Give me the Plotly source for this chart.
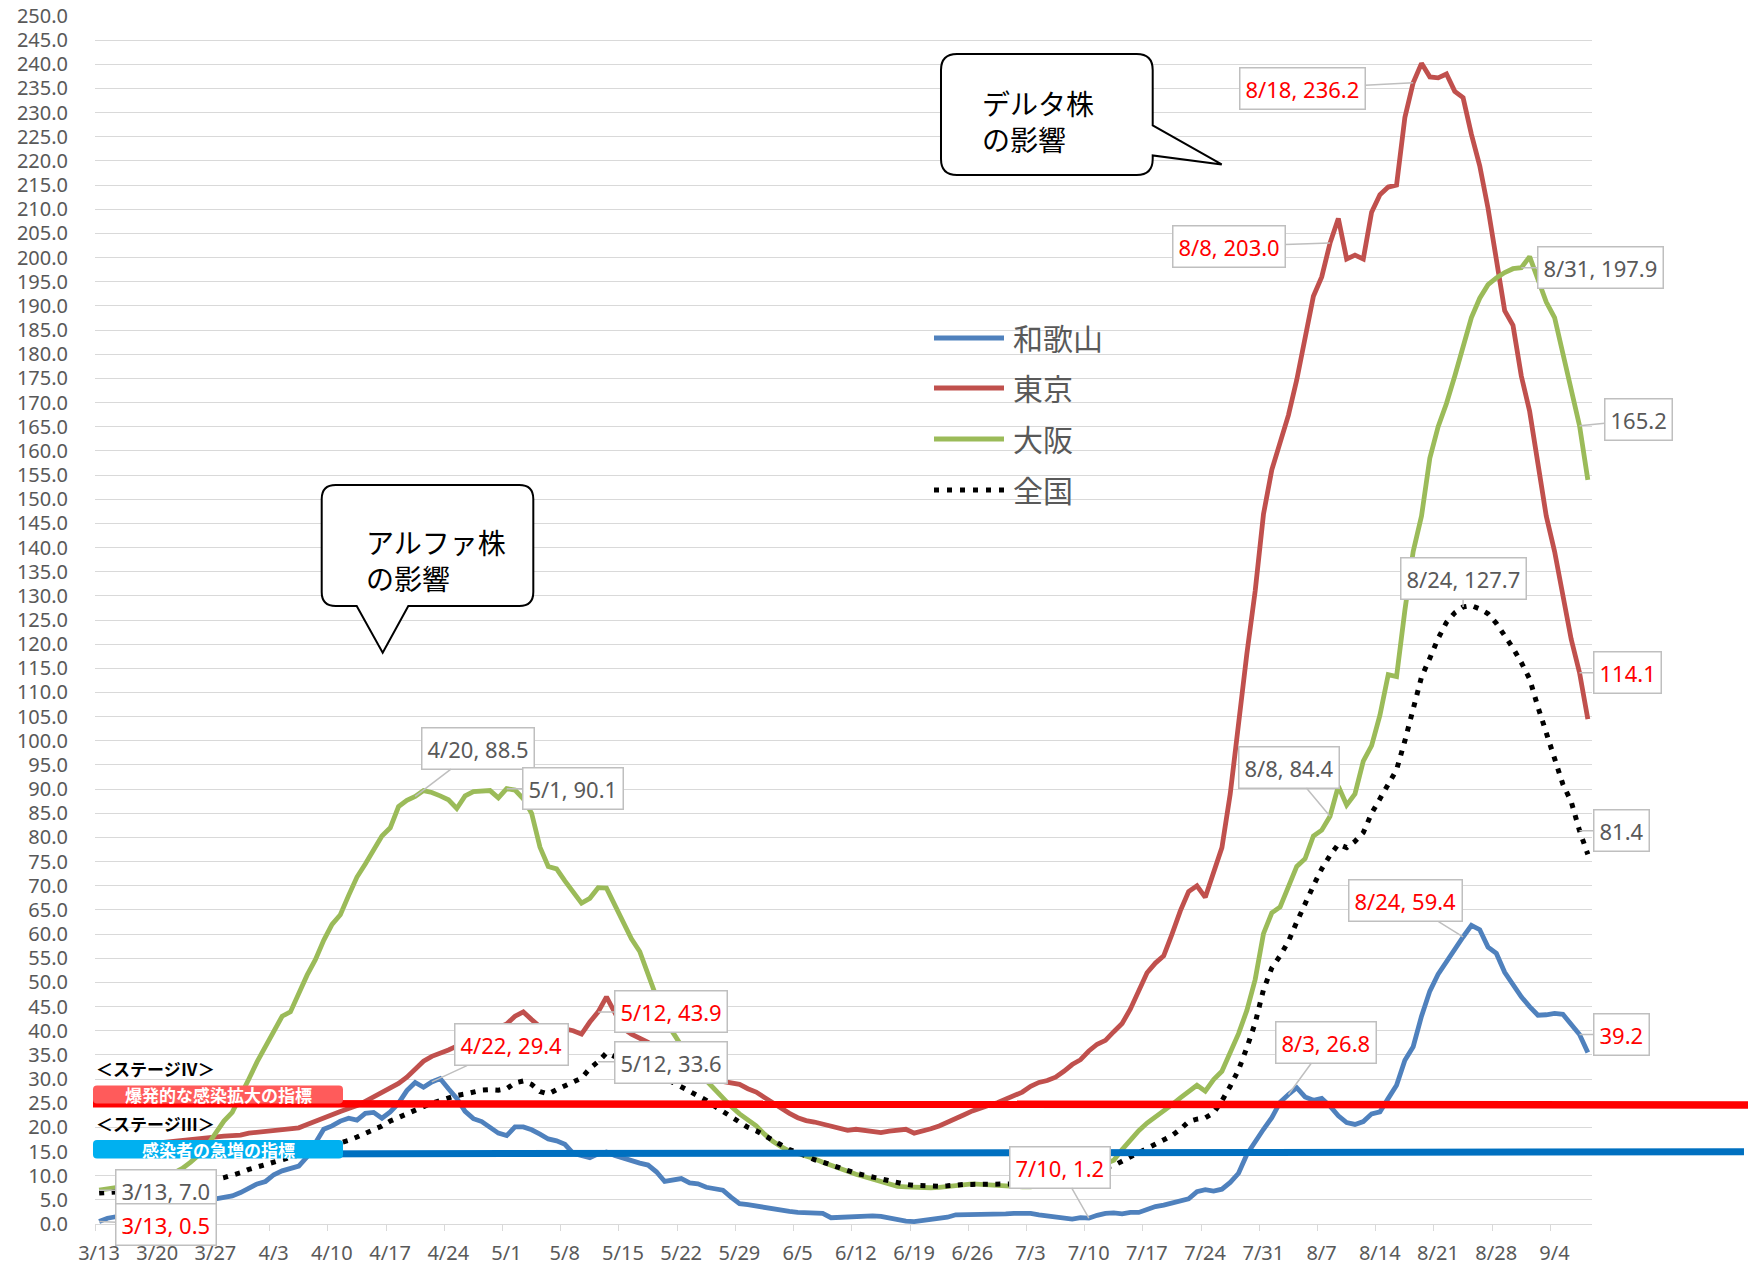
import pandas as pd
import plotly.graph_objects as go

# ---------------- data ----------------
dates = pd.date_range("2021-03-13", periods=180, freq="D")
series_names = ["和歌山", "東京", "大阪", "全国"]

wakayama = [
    0.5, 1.2, 1.5, 1.8, 2.0, 2.3, 2.6, 2.9, 3.2, 3.5,
    3.8, 4.1, 4.4, 4.7, 5.0, 5.3, 5.8, 6.5, 7.3, 8.3,
    8.8, 10.2, 11.0, 11.5, 12.0, 13.9, 17.0, 19.6, 20.3, 21.3,
    21.9, 21.5, 22.9, 23.1, 21.9, 23.2, 25.0, 27.6, 29.3, 28.3,
    29.4, 30.1, 28.0, 26.0, 23.3, 21.8, 21.2, 20.1, 18.8, 18.3,
    20.1, 20.1, 19.5, 18.6, 17.6, 17.2, 16.5, 14.6, 14.2, 13.7,
    14.5, 14.9, 14.2, 13.6, 13.0, 12.6, 12.2, 10.8, 8.8, 9.2,
    9.4, 8.5, 8.3, 7.6, 7.2, 7.0, 5.5, 4.2, 4.0, 3.7,
    3.3, 3.0, 2.8, 2.6, 2.4, 2.3, 2.3, 2.2, 1.3, 1.4,
    1.6, 1.7, 1.7, 1.7, 1.6, 1.3, 0.8, 0.6, 0.5, 0.7,
    0.8, 1.0, 1.4, 1.9, 1.9, 1.9, 1.9, 2.0, 2.0, 2.1,
    2.2, 2.3, 2.2, 1.9, 1.7, 1.5, 1.4, 1.0, 1.3, 1.2,
    1.8, 2.2, 2.3, 2.1, 2.4, 2.4, 3.0, 3.6, 3.9, 4.4,
    4.7, 5.2, 6.7, 7.1, 6.8, 7.2, 8.6, 10.5, 14.4, 17.2,
    19.6, 22.0, 25.2, 26.8, 28.2, 26.3, 25.6, 26.0, 24.4, 22.4,
    21.0, 20.6, 21.2, 22.8, 23.2, 26.0, 28.7, 33.9, 36.7, 43.0,
    48.2, 51.7, 54.4, 56.9, 59.4, 61.8, 60.9, 57.3, 56.0, 52.1,
    49.4, 47.0, 45.0, 43.2, 43.3, 43.6, 43.4, 41.4, 39.2, 35.5,
]

tokyo = [
    15.5, 15.6, 15.8, 16.0, 16.2, 16.4, 16.6, 16.8, 17.0, 17.2,
    17.4, 17.6, 17.8, 18.0, 18.1, 18.2, 18.3, 18.4, 18.8, 19.0,
    19.3, 19.5, 19.6, 19.7, 19.9, 20.6, 21.3, 22.0, 22.8, 23.3,
    23.9, 24.5, 25.4, 26.3, 27.2, 28.0, 29.1, 30.4, 32.0, 33.7,
    34.7, 35.3, 36.0, 36.8, 37.6, 38.4, 39.2, 40.0, 40.7, 41.4,
    43.0, 43.9, 42.3, 40.8, 40.5, 40.4, 40.4, 40.0, 39.3, 41.8,
    43.9, 47.0, 44.0, 40.5, 39.3, 38.4, 37.6, 36.4, 35.0, 33.6,
    32.2, 31.0, 30.4, 30.1, 29.9, 29.6, 29.2, 28.9, 28.0, 27.3,
    26.2, 25.0, 23.9, 22.9, 22.0, 21.4, 21.1, 20.7, 20.2, 19.7,
    19.4, 19.6, 19.3, 19.1, 18.9, 19.2, 19.4, 19.6, 18.8, 19.2,
    19.7, 20.3, 21.0, 21.8, 22.6, 23.4, 24.1, 24.6, 25.1, 25.9,
    26.6, 27.3, 28.5, 29.3, 29.7, 30.4, 31.6, 33.0, 34.0, 35.8,
    37.2, 38.0, 39.8, 41.5, 44.5, 48.3, 52.0, 54.0, 55.5, 60.0,
    64.8, 68.8, 70.0, 67.6, 72.8, 77.9, 89.0, 104.0, 118.0, 131.0,
    146.9, 156.1, 161.8, 167.4, 174.7, 183.5, 192.0, 196.0, 203.0, 208.1,
    199.7, 200.5, 199.7, 209.4, 213.0, 214.6, 215.0, 229.0, 236.2, 240.2,
    237.4, 237.2, 238.0, 234.4, 233.1, 225.5, 219.0, 210.2, 198.9, 189.0,
    186.0, 175.5, 168.2, 156.9, 146.5, 139.2, 130.3, 121.0, 114.1, 104.5,
]

osaka = [
    7.0, 7.2, 7.5, 7.8, 8.1, 8.5, 8.9, 9.4, 9.9, 10.6,
    11.5, 12.8, 14.3, 16.3, 19.0, 21.3, 23.1, 26.3, 30.0, 33.6,
    36.8, 40.0, 43.0, 43.9, 47.8, 51.5, 54.7, 58.7, 62.0, 64.0,
    68.0, 71.8, 74.5, 77.6, 80.3, 82.0, 86.4, 87.7, 88.5, 89.7,
    89.3, 88.6, 87.8, 86.0, 88.6, 89.5, 89.7, 89.7, 88.2, 90.1,
    89.8, 88.0, 85.0, 78.0, 74.0, 73.5, 71.0, 68.5, 66.4, 67.4,
    69.6, 69.5, 66.0, 62.0, 59.0, 56.4, 51.5, 46.5, 42.3, 39.6,
    37.0, 34.0, 31.5, 29.7, 27.9, 26.0, 24.3, 22.8, 21.6, 20.3,
    18.6, 17.1, 16.0, 15.1, 14.6, 14.1, 13.5, 12.8, 12.1, 11.5,
    10.9, 10.3, 9.8, 9.3, 8.8, 8.3, 7.8, 7.7, 7.6, 7.6,
    7.5, 7.6, 7.8, 8.1, 8.2, 8.3, 8.2, 8.1, 7.9, 7.7,
    7.6, 7.7, 7.7, 7.9, 8.2, 8.6, 9.1, 9.7, 10.4, 11.1,
    11.9, 12.6, 13.2, 15.4, 17.4, 19.3, 20.9, 22.1, 23.3, 24.7,
    26.1, 27.4, 28.7, 27.5, 29.9, 31.6, 35.5, 39.4, 44.2, 50.6,
    60.1, 64.4, 65.6, 69.6, 74.0, 75.6, 80.3, 81.5, 84.4, 90.6,
    86.7, 89.0, 95.8, 99.0, 105.3, 113.7, 113.3, 127.0, 139.2, 146.5,
    158.5, 165.0, 169.8, 175.5, 182.0, 187.6, 191.6, 194.4, 195.8, 196.9,
    197.7, 197.9, 200.2, 195.6, 190.8, 187.6, 180.3, 172.3, 165.2, 154.0,
]

zenkoku = [
    6.4, 6.4, 6.6, 6.8, 7.0, 7.2, 7.4, 7.6, 7.8, 8.0,
    8.3, 8.5, 8.7, 9.0, 9.2, 9.6, 10.0, 10.6, 11.3, 11.8,
    12.3, 12.8, 13.3, 13.6, 14.2, 14.7, 15.3, 15.8, 16.3, 16.8,
    17.3, 18.0, 18.7, 19.4, 20.3, 21.3, 22.1, 22.7, 23.5, 24.3,
    25.0, 25.6, 26.1, 26.6, 26.9, 27.3, 27.7, 27.8, 27.7, 28.0,
    29.2, 29.6, 28.9, 27.4, 26.9, 27.8, 28.6, 29.3, 30.2, 32.2,
    33.6, 35.4, 34.6, 33.8, 33.2, 32.5, 31.8, 31.0, 30.2, 29.3,
    28.4, 27.5, 26.5, 25.6, 24.4, 23.3, 22.1, 20.9, 20.0, 19.3,
    18.3, 17.2, 16.2, 15.4, 14.8, 14.0, 13.3, 12.8, 12.2, 11.6,
    11.0, 10.5, 10.1, 9.7, 9.3, 8.9, 8.5, 8.2, 8.0, 7.9,
    7.7, 7.8, 7.9, 8.1, 8.2, 8.2, 8.2, 8.2, 8.2, 8.1,
    8.2, 8.3, 8.5, 8.7, 9.0, 9.3, 9.7, 10.1, 10.5, 10.9,
    11.3, 11.7, 12.1, 13.0, 13.9, 14.9, 15.8, 16.7, 17.6, 18.3,
    19.6, 21.2, 21.7, 22.0, 23.0, 25.5, 28.5, 31.9, 36.5, 41.6,
    48.5, 53.0, 55.5, 58.5, 62.5, 66.5, 70.0, 73.5, 76.3, 78.6,
    77.9, 79.2, 81.0, 85.0, 88.0, 90.6, 94.0, 100.0, 106.8, 113.2,
    117.1, 121.2, 124.5, 126.5, 127.7, 128.0, 127.3, 126.3, 124.3, 121.9,
    119.2, 116.2, 112.8, 107.0, 101.8, 96.3, 91.0, 87.4, 81.4, 76.5,
]

tick_dates = dates[::7]
tick_labels = [f"{d.month}/{d.day}" for d in tick_dates]
Y_MAX = 250
Y_STEP = 5
stage4_level = 25
stage3_level = 15

# callouts: (series, index, show date?, text colour, box offset x, box offset y)
callouts = [
    ("大阪", 0, True, "#595959", 67, 0),
    ("和歌山", 0, True, "#FF0000", 67, 3),
    ("大阪", 38, True, "#595959", 63, -48),
    ("大阪", 49, True, "#595959", 66, 0),
    ("和歌山", 40, True, "#FF0000", 80, -37),
    ("東京", 60, True, "#FF0000", 73, 0),
    ("全国", 60, True, "#595959", 73, 1),
    ("和歌山", 119, True, "#FF0000", -29, -51),
    ("和歌山", 143, True, "#FF0000", 38, -52),
    ("大阪", 148, True, "#595959", -41, -49),
    ("和歌山", 164, True, "#FF0000", -58, -36),
    ("全国", 164, True, "#595959", 0, -28),
    ("東京", 148, True, "#FF0000", -101, 3),
    ("東京", 158, True, "#FF0000", -111, 6),
    ("大阪", 171, True, "#595959", 79, 0),
    ("大阪", 178, False, "#595959", 59, -6),
    ("東京", 178, False, "#FF0000", 48, 0),
    ("全国", 178, False, "#595959", 42, 0),
    ("和歌山", 178, False, "#FF0000", 42, 0),
]

# ---------------- layout constants ----------------
W, H = 1750, 1268
L, R, T, B = 95, 1592, 16, 1224
PW, PH = R - L, B - T

colors = {"和歌山": "#4F81BD", "東京": "#C0504D", "大阪": "#9BBB59", "全国": "#000000"}
values = {"和歌山": wakayama, "東京": tokyo, "大阪": osaka, "全国": zenkoku}

LATIN = "Noto Sans, Noto Sans CJK JP, sans-serif"
CJK = "Noto Sans CJK JP, Noto Sans, sans-serif"


def px(x):
    return (x - L) / PW


def py(y):
    return (B - y) / PH


def pt(x, y):
    return f"{px(x):.5f},{py(y):.5f}"


def rounded_path(x0, y0, x1, y1, r, tail=None):
    s = f"M{pt(x0 + r, y0)} L{pt(x1 - r, y0)} Q{pt(x1, y0)} {pt(x1, y0 + r)} "
    if tail and tail[0] == "right":
        for (tx, ty) in tail[1]:
            s += f"L{pt(tx, ty)} "
    s += f"L{pt(x1, y1 - r)} Q{pt(x1, y1)} {pt(x1 - r, y1)} "
    if tail and tail[0] == "bottom":
        for (tx, ty) in tail[1]:
            s += f"L{pt(tx, ty)} "
    s += f"L{pt(x0 + r, y1)} Q{pt(x0, y1)} {pt(x0, y1 - r)} "
    s += f"L{pt(x0, y0 + r)} Q{pt(x0, y0)} {pt(x0 + r, y0)} Z"
    return s


fig = go.Figure()

for name in series_names:
    if name == "全国":
        line = dict(color=colors[name], width=5, dash="5px,7.5px")
    else:
        line = dict(color=colors[name], width=4.8)
    fig.add_trace(go.Scatter(x=dates, y=values[name], mode="lines", name=name,
                             line=line, showlegend=False, hoverinfo="x+y+name"))

shapes = []
# threshold lines (extend past the plot area, like the drawn lines in the original)
shapes.append(dict(type="line", xref="paper", yref="paper",
                   x0=px(93), x1=px(1748), y0=(stage4_level - 0.1) / Y_MAX, y1=(stage4_level - 0.35) / Y_MAX,
                   line=dict(color="#FF0000", width=7.5), layer="above"))
shapes.append(dict(type="line", xref="paper", yref="paper",
                   x0=px(97), x1=px(1744), y0=(stage3_level - 0.55) / Y_MAX, y1=(stage3_level - 0.05) / Y_MAX,
                   line=dict(color="#0070C0", width=7), layer="above"))
# stage label boxes
shapes.append(dict(type="path", xref="paper", yref="paper",
                   path=rounded_path(93, 1085.5, 343, 1103.5, 4),
                   fillcolor="#FF5B5B", line=dict(width=0), layer="above"))
shapes.append(dict(type="path", xref="paper", yref="paper",
                   path=rounded_path(93, 1140, 343, 1158.5, 4),
                   fillcolor="#00B0F0", line=dict(width=0), layer="above"))
# speech bubbles
shapes.append(dict(type="path", xref="paper", yref="paper",
                   path=rounded_path(321.7, 485, 533.3, 606, 14,
                                     tail=("bottom", [(408.3, 606), (382.7, 652.7), (356.7, 606)])),
                   fillcolor="white", line=dict(color="black", width=2), layer="above"))
shapes.append(dict(type="path", xref="paper", yref="paper",
                   path=rounded_path(941, 54, 1152.7, 175, 16,
                                     tail=("right", [(1152.7, 125.4), (1221.7, 164.4), (1152.7, 155.4)])),
                   fillcolor="white", line=dict(color="black", width=2), layer="above"))

# manual legend
legend_y = [338, 388, 439, 490]
for name, ly in zip(series_names, legend_y):
    dash = "5px,8px" if name == "全国" else "solid"
    shapes.append(dict(type="line", xref="paper", yref="paper",
                       x0=px(934), x1=px(1004), y0=py(ly), y1=py(ly),
                       line=dict(color=colors[name], width=5, dash=dash), layer="above"))

annotations = []
for name, ly in zip(series_names, legend_y):
    annotations.append(dict(xref="paper", yref="paper", x=px(1011), y=py(ly - 1),
                            xanchor="left", yanchor="middle", showarrow=False,
                            text=name, font=dict(family=CJK, size=30, color="#595959")))

# bubble texts
for txt, x, y in [("アルファ株<br>の影響", 364, 559.5),
                  ("デルタ株<br>の影響", 980, 121)]:
    annotations.append(dict(xref="paper", yref="paper", x=px(x), y=py(y),
                            xanchor="left", yanchor="middle", showarrow=False, align="left",
                            text=txt, font=dict(family=CJK, size=28, color="black")))

# stage texts
for txt, x, y, col, anchor in [("＜ステージⅣ＞", 94, 1068, "black", "left"),
                               ("＜ステージⅢ＞", 94, 1123, "black", "left"),
                               ("爆発的な感染拡大の指標", 218, 1094.5, "white", "center"),
                               ("感染者の急増の指標", 218, 1149.3, "white", "center")]:
    annotations.append(dict(xref="paper", yref="paper", x=px(x), y=py(y),
                            xanchor=anchor, yanchor="middle", showarrow=False,
                            text=f"<b>{txt}</b>", font=dict(family=CJK, size=17, color=col)))

# data callouts
for name, idx, with_date, col, axo, ayo in callouts:
    d = dates[idx]
    v = values[name][idx]
    label = f"{d.month}/{d.day}, {v:.1f}" if with_date else f"{v:.1f}"
    annotations.append(dict(x=d, y=v, xref="x", yref="y", text=label,
                            showarrow=True, arrowhead=0, arrowwidth=1.5, arrowcolor="#BFBFBF",
                            ax=axo, ay=ayo, standoff=0,
                            bgcolor="white", bordercolor="#BFBFBF", borderwidth=1.5, borderpad=5,
                            font=dict(family=LATIN, size=22, color=col)))

fig.update_layout(
    width=W, height=H,
    margin=dict(l=L, r=W - R, t=T, b=H - B, pad=0, autoexpand=False),
    paper_bgcolor="white", plot_bgcolor="white",
    shapes=shapes, annotations=annotations,
    showlegend=False,
    font=dict(family=LATIN, color="#595959"),
)

fig.update_xaxes(
    type="date", automargin=False,
    range=[dates[0] - pd.Timedelta(hours=12), dates[-1] + pd.Timedelta(hours=12)],
    tickmode="array",
    tickvals=[d - pd.Timedelta(hours=12) for d in tick_dates],
    ticktext=tick_labels,
    ticklabelshift=4,
    ticklabelstandoff=5,
    showgrid=False, zeroline=False,
    showline=True, linecolor="#D9D9D9", linewidth=1.3,
    ticks="outside", ticklen=6, tickwidth=1.3, tickcolor="#D9D9D9",
    tickfont=dict(family=LATIN, size=20, color="#595959"),
)

fig.update_yaxes(
    automargin=False,
    range=[0, Y_MAX], tick0=0, dtick=Y_STEP, tickformat=".1f",
    showgrid=True, gridcolor="#D9D9D9", gridwidth=1.3,
    zeroline=False, showline=False, ticks="",
    ticklabelstandoff=26,
    tickfont=dict(family=LATIN, size=20, color="#595959"),
)

fig.write_html("out.html")
